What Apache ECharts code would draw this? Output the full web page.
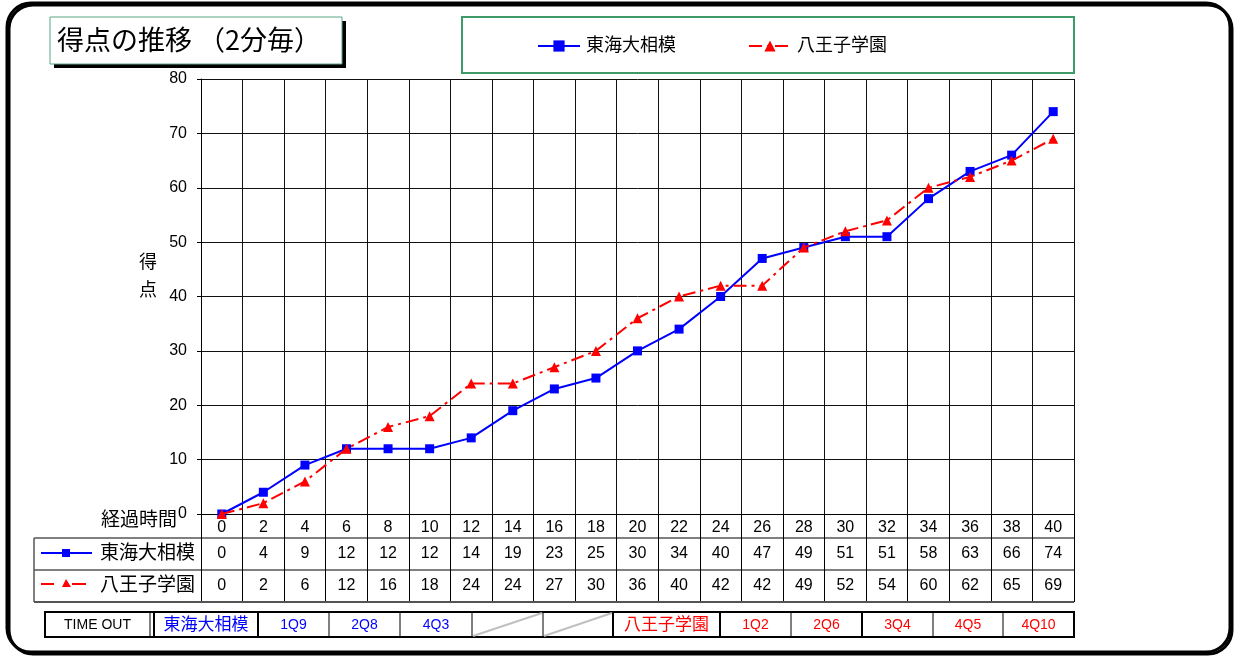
<!DOCTYPE html>
<html>
<head>
<meta charset="utf-8">
<script src="https://cdn.jsdelivr.net/npm/echarts@6/dist/echarts.min.js"></script>
<style>
  html, body { margin: 0; padding: 0; background: #fff; }
  #chart { width: 1234px; height: 656px; }
</style>
</head>
<body>
<div id="chart"></div>
<script>
// elapsed minutes (every 2 min)
const times = [0, 2, 4, 6, 8, 10, 12, 14, 16, 18, 20, 22, 24, 26, 28, 30, 32, 34, 36, 38, 40];
const tokai = [0, 4, 9, 12, 12, 12, 14, 19, 23, 25, 30, 34, 40, 47, 49, 51, 51, 58, 63, 66, 74];
const hachioji = [0, 2, 6, 12, 16, 18, 24, 24, 27, 30, 36, 40, 42, 42, 49, 52, 54, 60, 62, 65, 69];
const teamNames = ['東海大相模', '八王子学園'];
const timeoutTokai = ['1Q9', '2Q8', '4Q3', '', ''];
const timeoutHachioji = ['1Q2', '2Q6', '3Q4', '4Q5', '4Q10'];

const BLUE = '#0000ff';
const RED = '#ff0000';
const FONT = "'Liberation Sans', 'Noto Sans CJK JP', sans-serif";
const chart = echarts.init(document.getElementById('chart'));

const gridL = 201, gridR = 1074, gridT = 79, gridB = 514;

// timeout row cells: [x0, x1, text, color, size]
const toCells = [
  [45, 150, 'TIME OUT', '#000', 14],
  [154, 258, teamNames[0], BLUE, 17],
  [258, 329, timeoutTokai[0], BLUE, 14],
  [329, 400, timeoutTokai[1], BLUE, 14],
  [400, 472, timeoutTokai[2], BLUE, 14],
  [472, 543, timeoutTokai[3], BLUE, 14],
  [543, 613, timeoutTokai[4], BLUE, 14],
  [613, 720, teamNames[1], RED, 17],
  [720, 791, timeoutHachioji[0], RED, 14],
  [791, 862, timeoutHachioji[1], RED, 14],
  [862, 933, timeoutHachioji[2], RED, 14],
  [933, 1003, timeoutHachioji[3], RED, 14],
  [1003, 1074, timeoutHachioji[4], RED, 14]
];
const toY0 = 612, toY1 = 637;

const graphics = [
  // outer frame (with slight shadow)
  { type: 'rect', z: 0, shape: { x: 9, y: 5, width: 1223, height: 649, r: 24 },
    style: { fill: 'none', stroke: '#000', lineWidth: 3 } },
  { type: 'rect', z: 0, shape: { x: 7, y: 3, width: 1223, height: 649, r: 24 },
    style: { fill: 'none', stroke: '#000', lineWidth: 3 } },
  // title box with shadow
  { type: 'rect', z: 1, shape: { x: 54, y: 21, width: 292, height: 47 }, style: { fill: '#000' } },
  { type: 'rect', z: 2, shape: { x: 50, y: 17, width: 292, height: 47 },
    style: { fill: '#fff', stroke: '#5aa585', lineWidth: 1 } },
  { type: 'text', z: 3, x: 57, y: 40,
    style: { text: '得点の推移 （2分毎）', fontSize: 27, fontFamily: "'Noto Sans CJK JP', sans-serif", fill: '#000', verticalAlign: 'middle' } },
  // legend box
  { type: 'rect', z: 1, shape: { x: 462, y: 17, width: 612, height: 56 },
    style: { fill: '#fff', stroke: '#3f9a6a', lineWidth: 2 } },
  // y axis name
  { type: 'text', z: 3, x: 148, y: 277,
    style: { text: '得\n点', fontSize: 18, lineHeight: 28, fontFamily: FONT, fill: '#000', align: 'center', verticalAlign: 'middle' } },
  { type: 'text', z: 3, x: 177, y: 521,
    style: { text: '経過時間', fontSize: 19, fontFamily: FONT, fill: '#000', align: 'right', verticalAlign: 'middle' } },
  // data table lines
  { type: 'line', z: 3, shape: { x1: 34, y1: 538, x2: gridR, y2: 538 }, style: { stroke: '#000', lineWidth: 1 } },
  { type: 'line', z: 3, shape: { x1: 34, y1: 570, x2: gridR, y2: 570 }, style: { stroke: '#000', lineWidth: 1 } },
  { type: 'line', z: 3, shape: { x1: 34, y1: 602, x2: gridR, y2: 602 }, style: { stroke: '#555', lineWidth: 2 } },
  { type: 'line', z: 3, shape: { x1: 34, y1: 538, x2: 34, y2: 602 }, style: { stroke: '#555', lineWidth: 1.5 } },
  // row headers
  { type: 'line', z: 3, shape: { x1: 41, y1: 553, x2: 92, y2: 553 }, style: { stroke: BLUE, lineWidth: 2 } },
  { type: 'rect', z: 3, shape: { x: 62, y: 549, width: 8, height: 8 }, style: { fill: BLUE } },
  { type: 'text', z: 3, x: 195, y: 554,
    style: { text: teamNames[0], fontSize: 19, fontFamily: FONT, fill: '#000', align: 'right', verticalAlign: 'middle' } },
  { type: 'line', z: 3, shape: { x1: 41, y1: 584, x2: 54, y2: 584 }, style: { stroke: RED, lineWidth: 2 } },
  { type: 'polygon', z: 3, shape: { points: [[66, 579], [62, 587], [71, 587]] }, style: { fill: RED } },
  { type: 'line', z: 3, shape: { x1: 72, y1: 584, x2: 86, y2: 584 }, style: { stroke: RED, lineWidth: 2 } },
  { type: 'text', z: 3, x: 195, y: 586,
    style: { text: teamNames[1], fontSize: 19, fontFamily: FONT, fill: '#000', align: 'right', verticalAlign: 'middle' } },
  // timeout row frame
  { type: 'rect', z: 3, shape: { x: 45, y: toY0, width: 1029, height: toY1 - toY0 },
    style: { fill: 'none', stroke: '#000', lineWidth: 2 } }
];

toCells.forEach(function (c, i) {
  if (i > 0) {
    const thick = [1, 2, 7, 8, 10].indexOf(i) >= 0;
    graphics.push({ type: 'line', z: 3, shape: { x1: c[0], y1: toY0, x2: c[0], y2: toY1 },
      style: { stroke: '#000', lineWidth: thick ? 2 : 1 } });
  }
  if (c[2]) {
    graphics.push({ type: 'text', z: 3, x: (c[0] + c[1]) / 2, y: (toY0 + toY1) / 2 + 1,
      style: { text: c[2], fontSize: c[4], fontFamily: FONT, fill: c[3], align: 'center', verticalAlign: 'middle' } });
  } else {
    graphics.push({ type: 'line', z: 3, shape: { x1: c[0] + 1, y1: toY1 - 1, x2: c[1] - 1, y2: toY0 + 1 },
      style: { stroke: '#c0c0c0', lineWidth: 2 } });
  }
});
// double line after TIME OUT
graphics.push({ type: 'line', z: 3, shape: { x1: 150, y1: toY0, x2: 150, y2: toY1 }, style: { stroke: '#000', lineWidth: 1 } });

const option = {
  animation: false,
  backgroundColor: '#fff',
  textStyle: { fontFamily: FONT },
  graphic: graphics,
  legend: {
    left: 537,
    top: 37,
    padding: 0,
    itemWidth: 42,
    itemHeight: 14,
    itemGap: 72,
    data: teamNames,
    textStyle: { fontSize: 18, color: '#000', fontFamily: FONT, padding: [0, 0, 0, 1] }
  },
  grid: { left: gridL, right: 1234 - gridR, top: gridT, bottom: 656 - gridB, containLabel: false },
  xAxis: {
    type: 'category',
    data: times,
    boundaryGap: true,
    axisLine: { lineStyle: { color: '#000', width: 1 } },
    axisTick: { show: true, length: 88, lineStyle: { color: '#000', width: 1 } },
    splitLine: { show: true, lineStyle: { color: '#111', width: 1 } },
    axisLabel: {
      interval: 0,
      margin: 0,
      color: '#000',
      formatter: function (v, i) {
        return '{t|' + v + '}\n{a|' + tokai[i] + '}\n{b|' + hachioji[i] + '}';
      },
      rich: {
        t: { fontSize: 16, lineHeight: 24, height: 24, color: '#000', padding: [3, 0, 0, 0], fontFamily: FONT },
        a: { fontSize: 16, lineHeight: 32, height: 32, color: '#000', fontFamily: FONT },
        b: { fontSize: 16, lineHeight: 32, height: 32, color: '#000', fontFamily: FONT }
      }
    }
  },
  yAxis: {
    type: 'value',
    min: 0,
    max: 80,
    interval: 10,
    axisLine: { show: true, lineStyle: { color: '#000' } },
    axisTick: { show: true, length: 4, lineStyle: { color: '#000' } },
    splitLine: { show: true, lineStyle: { color: '#111', width: 1 } },
    axisLabel: { fontSize: 16, color: '#000', margin: 14, fontFamily: FONT }
  },
  series: [
    {
      name: teamNames[0],
      type: 'line',
      data: tokai,
      color: BLUE,
      symbol: 'rect',
      symbolSize: 9,
      lineStyle: { color: BLUE, width: 2 },
      itemStyle: { color: BLUE },
      clip: false,
      z: 5
    },
    {
      name: teamNames[1],
      type: 'line',
      data: hachioji,
      color: RED,
      symbol: 'triangle',
      symbolSize: 10,
      lineStyle: { color: RED, width: 2, type: [13, 5, 3, 5] },
      itemStyle: { color: RED },
      clip: false,
      z: 6
    }
  ]
};
chart.setOption(option);
</script>
</body>
</html>
